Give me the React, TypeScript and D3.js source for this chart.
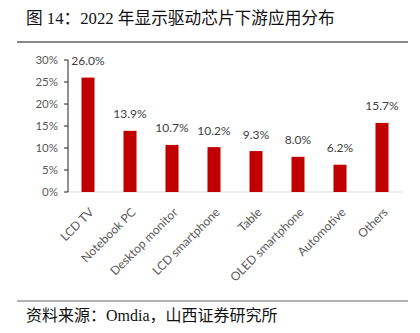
import React from "react";
import * as d3 from "d3";

const categories = ["LCD TV", "Notebook PC", "Desktop monitor", "LCD smartphone", "Table", "OLED smartphone", "Automotive", "Others"];
const values = [26.0, 13.9, 10.7, 10.2, 9.3, 8.0, 6.2, 15.7];
const yTicks = [0, 5, 10, 15, 20, 25, 30];
const title = "图 14：2022 年显示驱动芯片下游应用分布";
const source = "资料来源：Omdia，山西证券研究所";

export default function App() {
  const W = 420, H = 333;
  const x = d3.scaleBand<string>().domain(categories).range([67, 403]).paddingInner(0.69).paddingOuter(0.345);
  const y = d3.scaleLinear().domain([0, 30]).range([192, 60]);
  const sans = "Lato, 'Open Sans', sans-serif";
  const cjk = "'Liberation Serif', 'Times New Roman', 'Noto Sans CJK SC', serif";
  return (
    <svg width={W} height={H} style={{ position: "absolute", left: 0, top: 0, background: "#fff" }}>
      <text x={26} y={24} fontSize={16.7} fontFamily={cjk} fill="#111">{title}</text>
      <line x1={17} x2={408} y1={42} y2={42} stroke="#888" strokeWidth={2} />
      {/* x baseline */}
      <line x1={68} x2={403} y1={y(0)} y2={y(0)} stroke="#d9d9d9" strokeWidth={1} />
      {/* y axis */}
      <line x1={68} x2={68} y1={y(30)} y2={y(0)} stroke="#222" strokeWidth={1} />
      {yTicks.map((t) => (
        <g key={t}>
          <line x1={64} x2={68} y1={y(t)} y2={y(t)} stroke="#222" strokeWidth={1} />
          <text x={58} y={y(t)} dy="0.35em" textAnchor="end" fontSize={11.5} fontFamily={sans} fill="#595959">{t}%</text>
        </g>
      ))}
      {categories.map((c, i) => {
        const bx = x(c)!;
        const bw = x.bandwidth();
        const cx = bx + bw / 2;
        return (
          <g key={c}>
            <rect x={bx} y={y(values[i])} width={bw} height={y(0) - y(values[i])} fill="#c00000" />
            <text x={cx} y={y(values[i]) - 12.5} textAnchor="middle" fontSize={12} fontFamily={sans} fill="#404040">{values[i].toFixed(1)}%</text>
            <text transform={`translate(${cx + 3.5},${y(0) + 18}) rotate(-45)`} textAnchor="end" dy="0.35em" fontSize={12} fontFamily={sans} fill="#595959">{c}</text>
          </g>
        );
      })}
      <line x1={17} x2={408} y1={301} y2={301} stroke="#666" strokeWidth={1} />
      <text x={26} y={321} fontSize={16} fontFamily={cjk} fill="#111">{source}</text>
    </svg>
  );
}
